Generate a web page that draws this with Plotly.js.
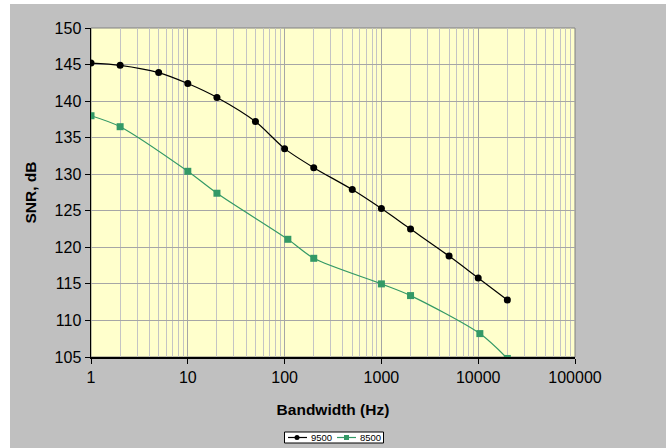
<!DOCTYPE html>
<html>
<head>
<meta charset="utf-8">
<script src="https://cdn.plot.ly/plotly-3.0.1.min.js"></script>
<style>
  html, body { margin: 0; padding: 0; background: #ffffff; }
  #chart { width: 668px; height: 448px; }
</style>
</head>
<body>
<div id="chart"></div>
<script>
// Signal-to-noise ratio versus measurement bandwidth for two models
const seriesNames = ['9500', '8500'];

const bw9500  = [1, 2, 5, 10, 20, 50, 100, 200, 500, 1000, 2000, 5000, 10000, 20000];
const snr9500 = [145.2, 144.9, 143.9, 142.4, 140.5, 137.2, 133.5, 130.9, 127.9, 125.3, 122.5, 118.8, 115.8, 112.8];

const bw8500  = [1, 2, 10, 20, 108, 200, 1000, 2000, 10400, 20000];
const snr8500 = [138.0, 136.5, 130.4, 127.4, 121.1, 118.5, 115.0, 113.4, 108.2, 104.8];

const xTickVals = [1, 10, 100, 1000, 10000, 100000];
const xTickText = ['1', '10', '100', '1000', '10000', '100000'];

const xTitle = 'Bandwidth (Hz)';
const yTitle = 'SNR, dB';

const colors = ['#000000', '#339966'];
const symbols = ['circle', 'square'];

// plot-area geometry in pixels
const W = 668, H = 448;
const M = { l: 91, r: 93, t: 28, b: 91 };
const PW = W - M.l - M.r, PH = H - M.t - M.b;
const px = x => (x - M.l) / PW;
const py = y => (H - M.b - y) / PH;

const traces = [
  { x: bw9500, y: snr9500, name: seriesNames[0] },
  { x: bw8500, y: snr8500, name: seriesNames[1] }
].map((t, i) => Object.assign(t, {
  type: 'scatter',
  mode: 'lines+markers',
  line: { color: colors[i], width: 1.2, shape: 'spline', smoothing: 0.8 },
  marker: { color: colors[i], symbol: symbols[i], size: 7, line: { width: 0 } },
  showlegend: false,
  cliponaxis: true
}));

// background panels
const shapes = [
  { type: 'rect', xref: 'paper', yref: 'paper', layer: 'below',
    x0: px(10), x1: px(666), y0: py(448), y1: py(4),
    fillcolor: '#c0c0c0', line: { width: 0 } },
  { type: 'rect', xref: 'paper', yref: 'paper', layer: 'below',
    x0: 0, x1: 1, y0: 0, y1: 1,
    fillcolor: '#ffffcc', line: { color: '#808080', width: 1 } }
];

// legend box drawn at the bottom
const annotations = [];
shapes.push({ type: 'rect', xref: 'paper', yref: 'paper', layer: 'above',
  x0: px(284.5), x1: px(383.5), y0: py(443), y1: py(432),
  fillcolor: '#ffffff', line: { color: '#000000', width: 1 } });
const legItems = [
  { l0: 288, l1: 307, m: 297, tx: 309 },
  { l0: 337, l1: 356, m: 346.5, tx: 358 }
];
legItems.forEach((it, i) => {
  const yc = py(437.5);
  shapes.push({ type: 'line', xref: 'paper', yref: 'paper', layer: 'above',
    x0: px(it.l0), x1: px(it.l1), y0: yc, y1: yc,
    line: { color: colors[i], width: 1.2 } });
  shapes.push({ type: symbols[i] === 'circle' ? 'circle' : 'rect',
    xref: 'paper', yref: 'paper', layer: 'above',
    xsizemode: 'pixel', ysizemode: 'pixel',
    xanchor: px(it.m), yanchor: yc,
    x0: -2.5, x1: 2.5, y0: -2.5, y1: 2.5,
    fillcolor: colors[i], line: { width: 0 } });
  annotations.push({ xref: 'paper', yref: 'paper', x: px(it.tx), y: yc,
    xanchor: 'left', yanchor: 'middle', showarrow: false,
    text: seriesNames[i], font: { family: 'Liberation Sans, Arial, sans-serif', size: 9.5, color: '#000' } });
});

const font = { family: 'Liberation Sans, Arial, sans-serif', color: '#000000' };

const layout = {
  width: W, height: H,
  margin: M,
  paper_bgcolor: '#ffffff',
  plot_bgcolor: 'rgba(0,0,0,0)',
  font: Object.assign({ size: 16 }, font),
  showlegend: false,
  xaxis: {
    type: 'log',
    range: [0, 5],
    tickvals: xTickVals,
    ticktext: xTickText,
    ticks: 'outside', ticklen: 5, tickwidth: 1, tickcolor: '#000',
    showline: true, linecolor: '#000', linewidth: 1.5,
    showgrid: true, gridcolor: '#a6a6a6', gridwidth: 1,
    minor: { dtick: 'D1', showgrid: true, gridcolor: '#c4c4c4', gridwidth: 1, ticks: '' },
    zeroline: false,
    tickfont: { size: 16 },
    title: { text: xTitle, font: { size: 15.5, weight: 'bold' }, standoff: 19 }
  },
  yaxis: {
    range: [105, 150],
    dtick: 5,
    ticks: 'outside', ticklen: 5, tickwidth: 1, tickcolor: '#000',
    showline: true, linecolor: '#000', linewidth: 1.5,
    showgrid: true, gridcolor: '#a6a6a6', gridwidth: 1,
    zeroline: false,
    tickfont: { size: 16 },
    title: { text: yTitle, font: { size: 15.5, weight: 'bold' }, standoff: 14 }
  },
  shapes: shapes,
  annotations: annotations
};

Plotly.newPlot('chart', traces, layout, { displayModeBar: false, staticPlot: true });
</script>
</body>
</html>
